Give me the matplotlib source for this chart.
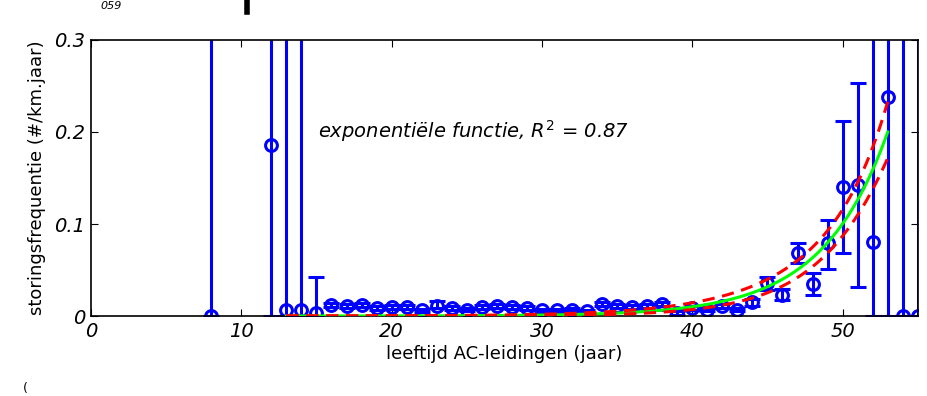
import numpy as np
import matplotlib
matplotlib.use('Agg')
import matplotlib.pyplot as plt
from matplotlib.lines import Line2D

# age (jaar) and failure frequency (#/km.jaar)
ages = [8, 12, 13, 14, 15, 16, 17, 18, 19, 20, 21, 22, 23, 24, 25, 26, 27, 28,
        29, 30, 31, 32, 33, 34, 35, 36, 37, 38, 39, 40, 41, 42, 43, 44, 45, 46,
        47, 48, 49, 50, 51, 52, 53, 54, 55]
freq = [0.0, 0.186, 0.006, 0.006, 0.003, 0.012, 0.011, 0.012, 0.009, 0.010,
        0.010, 0.006, 0.011, 0.009, 0.007, 0.010, 0.011, 0.010, 0.009, 0.006,
        0.006, 0.007, 0.005, 0.013, 0.011, 0.010, 0.011, 0.013, 0.003, 0.009,
        0.007, 0.011, 0.007, 0.015, 0.036, 0.023, 0.068, 0.035, 0.079, 0.140,
        0.142, 0.080, 0.238, 0.0, 0.0]
err_lo = [0.0, 0.186, 0.006, 0.006, 0.003, 0.002, 0.002, 0.002, 0.002, 0.002,
          0.002, 0.002, 0.002, 0.002, 0.002, 0.002, 0.002, 0.002, 0.002, 0.002,
          0.002, 0.002, 0.002, 0.002, 0.002, 0.002, 0.002, 0.002, 0.002, 0.002,
          0.002, 0.002, 0.002, 0.004, 0.008, 0.006, 0.010, 0.012, 0.028, 0.072,
          0.111, 0.080, 0.238, 0.0, 0.0]
err_hi = [1.0, 1.0, 1.0, 1.0, 0.039, 0.002, 0.002, 0.002, 0.002, 0.002,
          0.002, 0.002, 0.005, 0.002, 0.002, 0.002, 0.002, 0.002, 0.002, 0.002,
          0.002, 0.002, 0.002, 0.002, 0.002, 0.002, 0.002, 0.002, 0.002, 0.002,
          0.002, 0.002, 0.002, 0.004, 0.006, 0.006, 0.011, 0.012, 0.025, 0.072,
          0.111, 1.0, 1.0, 1.0, 1.0]

# exponential fit: f(x) = fit_end * exp(fit_b * (x - fit_x1)), fitted on 13..53
fit_x0, fit_x1 = 13, 53
fit_end = 0.20
fit_b = 0.23
# confidence band (log scale half width)
band_xm, band_s0, band_s1 = 51, 0.14, 0.03

xt = [0, 10, 20, 30, 40, 50]
yt = [0, 0.1, 0.2, 0.3]
yt_labels = ['0', '0.1', '0.2', '0.3']

fig = plt.figure(figsize=(9.28, 3.96), dpi=100)
ax = fig.add_axes([0.098, 0.202, 0.891, 0.697])

blue = (0, 0, 1)
ax.errorbar(ages, freq, yerr=[err_lo, err_hi], fmt='o', color=blue,
            mfc='none', mec=blue, ms=8.5, mew=2.2, elinewidth=2.2,
            capsize=6, capthick=2.2, zorder=2)

xf = np.linspace(fit_x0, fit_x1, 200)
f = fit_end * np.exp(fit_b * (xf - fit_x1))
s = np.sqrt(band_s0 ** 2 + (band_s1 * (xf - band_xm)) ** 2)
ax.plot(xf, f, color=(0, 1, 0), lw=2.2, zorder=3)
ax.plot(xf, f * np.exp(s), color=(1, 0, 0), lw=2.2, ls=(0, (4, 2.5)), zorder=4)
ax.plot(xf, f * np.exp(-s), color=(1, 0, 0), lw=2.2, ls=(0, (4, 2.5)), zorder=4)

ax.text(15.1, 0.201, r'exponentiële functie, $R^2$ = 0.87', fontsize=14,
        style='italic', va='center', ha='left')

ax.set_xlim(0, 55)
ax.set_ylim(0, 0.3)
ax.set_xticks(xt)
ax.set_xticklabels([str(v) for v in xt], fontsize=14, style='italic')
ax.set_yticks(yt)
ax.set_yticklabels(yt_labels, fontsize=14, style='italic')
ax.tick_params(direction='in', length=5, width=0.8, top=True, right=True, pad=4)
for sp in ax.spines.values():
    sp.set_linewidth(1.2)

ax.set_xlabel('leeftijd AC-leidingen (jaar)', fontsize=13, labelpad=3)
ax.set_ylabel('storingsfrequentie (#/km.jaar)', fontsize=13, labelpad=6)

# fragments of the surrounding page
fig.text(0.108, 0.997, '059', fontsize=8, style='italic', va='top')
fig.add_artist(Line2D([0.266, 0.266], [0.97, 1.0], color='black', lw=4))
fig.text(0.025, 0.003, '(', fontsize=9, va='bottom')

fig.savefig('out.png', dpi=100)
